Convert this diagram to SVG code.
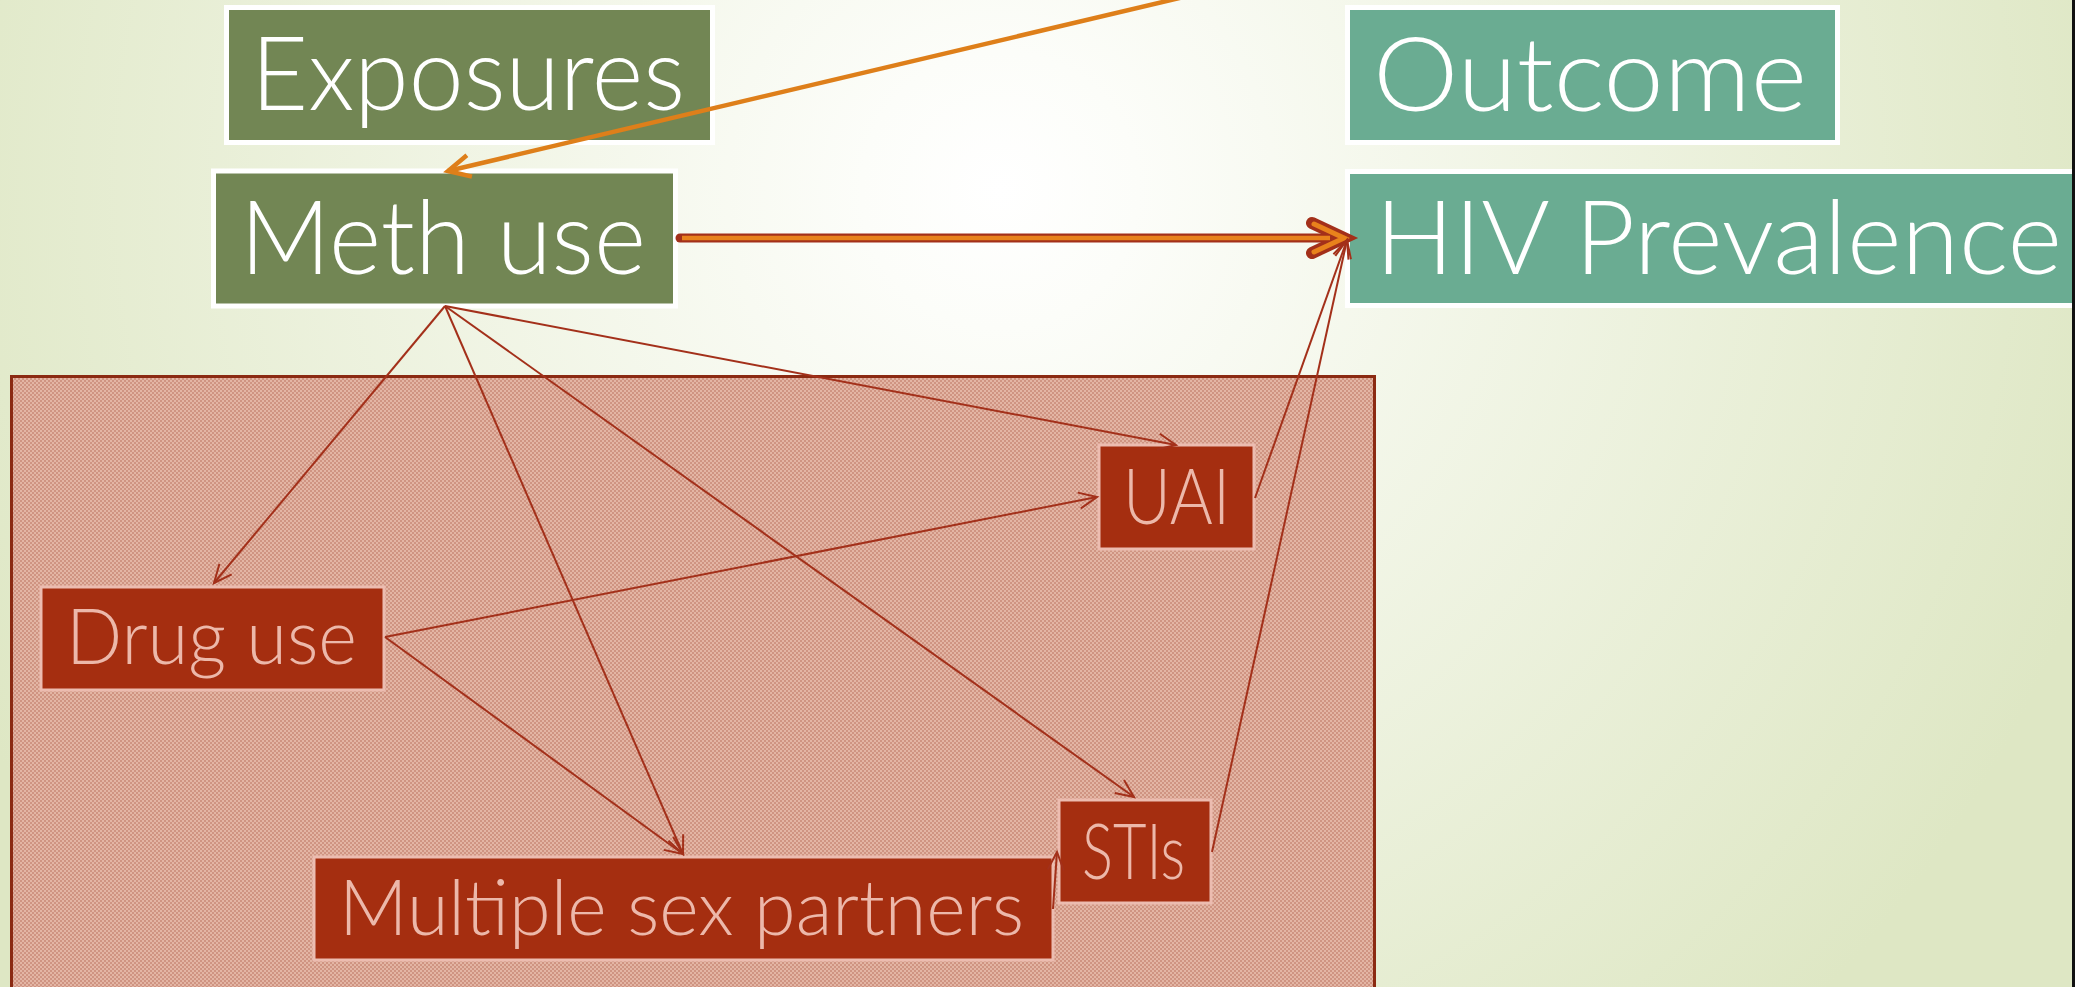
<svg xmlns="http://www.w3.org/2000/svg" width="2089" height="987" viewBox="0 0 2089 987">
  <style>
    .lbl{font-family:Lato,"Open Sans","Liberation Sans",sans-serif;font-weight:300}
    .big{font-size:102px;fill:#ffffff}
    .small{font-size:77px;fill:#ecb8aa}
    .green{fill:#728654;stroke:#ffffff;stroke-width:5}
    .teal{fill:#6aac92;stroke:#ffffff;stroke-width:5}
    .red{fill:#a52e10;stroke:#ecbcb0;stroke-width:3}
    .thin{stroke:#a3301a;stroke-width:2;fill:none;marker-end:url(#ah)}
  </style>
  <defs>
    <radialGradient id="bg" gradientUnits="userSpaceOnUse" cx="1000" cy="190" r="1150">
      <stop offset="0" stop-color="#ffffff"/>
      <stop offset="0.12" stop-color="#fcfdf9"/>
      <stop offset="1" stop-color="#dee7c4"/>
    </radialGradient>
    <pattern id="dots" width="4" height="4" patternUnits="userSpaceOnUse">
      <rect width="4" height="4" fill="#e3b5a4"/>
      <rect width="2" height="2" fill="#cf9482"/>
      <rect x="2" y="2" width="2" height="2" fill="#cf9482"/>
    </pattern>
    <marker id="ah" markerUnits="userSpaceOnUse" markerWidth="34" markerHeight="34" viewBox="-24 -17 34 34" refX="0" refY="0" orient="auto">
      <path d="M-18,-8 L0,0 L-18,8" fill="none" stroke="#a3301a" stroke-width="2"/>
    </marker>
    <marker id="ahOrange" markerUnits="userSpaceOnUse" markerWidth="40" markerHeight="40" viewBox="-30 -20 40 40" refX="0" refY="0" orient="auto">
      <path d="M-22,-11 L0,0 L-22,11" fill="none" stroke="#de7f1a" stroke-width="4.5"/>
    </marker>
    <marker id="ahThick" markerUnits="userSpaceOnUse" markerWidth="60" markerHeight="60" viewBox="-45 -30 60 60" refX="0" refY="0" orient="auto">
      <path d="M-32,-15 L0,0 L-32,15" fill="none" stroke="#a3301a" stroke-width="12" stroke-linecap="round" stroke-linejoin="miter"/>
      <path d="M-30,-14 L0,0 L-30,14" fill="none" stroke="#e8821c" stroke-width="5" stroke-linecap="round"/>
    </marker>
  </defs>

  <rect x="0" y="0" width="2089" height="987" fill="url(#bg)"/>

  <g id="confounders-region">
    <rect x="11.5" y="376.5" width="1363" height="640" fill="url(#dots)" stroke="#8b2a12" stroke-width="3"/>
  </g>

  <g id="node-exposures">
    <rect class="green" x="226.5" y="7.5" width="486" height="135"/>
    <text class="lbl big" x="251" y="110" textLength="434" lengthAdjust="spacingAndGlyphs">Exposures</text>
  </g>
  <g id="node-meth-use">
    <rect class="green" x="213.5" y="171" width="462" height="135"/>
    <text class="lbl big" x="240" y="274" textLength="406" lengthAdjust="spacingAndGlyphs">Meth use</text>
  </g>
  <g id="node-outcome">
    <rect class="teal" x="1347.5" y="7.5" width="490" height="135"/>
    <text class="lbl big" x="1373" y="111" textLength="434" lengthAdjust="spacingAndGlyphs">Outcome</text>
  </g>
  <g id="node-hiv">
    <rect class="teal" x="1347.5" y="171.5" width="740" height="134"/>
    <text class="lbl big" x="1375" y="274" textLength="687" lengthAdjust="spacingAndGlyphs">HIV Prevalence</text>
  </g>
  <g id="node-drug-use">
    <rect class="red" x="41" y="587" width="343" height="103"/>
    <text class="lbl small" x="66" y="664" textLength="291" lengthAdjust="spacingAndGlyphs">Drug use</text>
  </g>
  <g id="node-uai">
    <rect class="red" x="1099" y="445" width="155" height="104"/>
    <text class="lbl small" x="1123" y="524" textLength="107" lengthAdjust="spacingAndGlyphs">UAI</text>
  </g>
  <g id="node-stis">
    <rect class="red" x="1059" y="800" width="152" height="103"/>
    <text class="lbl small" x="1082" y="879" textLength="103" lengthAdjust="spacingAndGlyphs">STIs</text>
  </g>
  <g id="node-msp">
    <rect class="red" x="314" y="857" width="739" height="103"/>
    <text class="lbl small" x="339" y="935" textLength="685" lengthAdjust="spacingAndGlyphs">Multiple sex partners</text>
  </g>

  <g id="connectors">
    <line x1="1188" y1="-4" x2="448" y2="171" stroke="#de7f1a" stroke-width="4.5" marker-end="url(#ahOrange)"/>
    <line x1="680" y1="238" x2="1344" y2="238" stroke="#a3301a" stroke-width="9" stroke-linecap="round" marker-end="url(#ahThick)"/>
    <line x1="682" y1="238" x2="1330" y2="238" stroke="#e8821c" stroke-width="4.5"/>
    <line class="thin" x1="445" y1="306" x2="214" y2="583"/>
    <line class="thin" x1="445" y1="306" x2="683" y2="854"/>
    <line class="thin" x1="445" y1="306" x2="1134" y2="797"/>
    <line class="thin" x1="445" y1="306" x2="1176" y2="445"/>
    <line class="thin" x1="385" y1="637" x2="1097" y2="497"/>
    <line class="thin" x1="385" y1="637" x2="683" y2="854"/>
    <line class="thin" x1="1255" y1="498" x2="1347" y2="240"/>
    <line class="thin" x1="1212" y1="852" x2="1347" y2="240"/>
    <line class="thin" x1="1053" y1="909" x2="1057" y2="852"/>
  </g>

  <rect x="2075" y="0" width="14" height="987" fill="#ffffff"/>
  <line x1="2073.5" y1="0" x2="2073.5" y2="987" stroke="#111111" stroke-width="3"/>
</svg>
